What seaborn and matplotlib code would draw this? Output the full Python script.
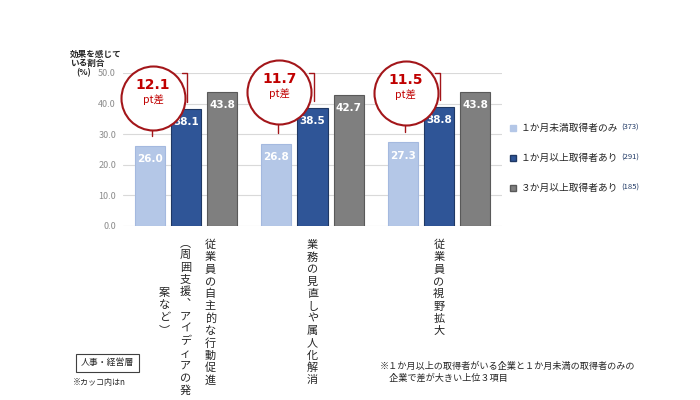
import matplotlib
matplotlib.use('Agg')
import matplotlib.pyplot as plt
import pandas as pd
import seaborn as sns

# data
categories = ['自主的な行動促進', '業務の見直し', '視野拡大']
label_columns = [
    ['従業員の自主的な行動促進', '︵周囲支援︑アイディアの発', '案など︶'],
    ['業務の見直しや属人化解消'],
    ['従業員の視野拡大'],
]
groups = ['１か月未満取得者のみ', '１か月以上取得者あり', '３か月以上取得者あり']
group_n = [373, 291, 185]
under_1m = [26.0, 26.8, 27.3]
over_1m = [38.1, 38.5, 38.8]
over_3m = [43.8, 42.7, 43.8]
yticks = [0, 10, 20, 30, 40, 50]

colors = ['#b4c7e7', '#2f5597', '#7f7f7f']
edges = ['#a4b9df', '#1f3864', '#595959']
red = '#a3161a'

df = pd.DataFrame({
    'item': categories * 3,
    'group': [g for g in groups for _ in categories],
    'value': under_1m + over_1m + over_3m,
})

sns.set_style('white')
plt.rcParams['font.family'] = ['Noto Sans CJK JP', 'DejaVu Sans']

fig = plt.figure(figsize=(7, 4), dpi=100)
ax = fig.add_axes([123 / 700, 1 - 226 / 400, 379 / 700, 153 / 400])

sns.barplot(data=df, x='item', y='value', hue='group', order=categories,
            hue_order=groups, palette=colors, saturation=1, width=0.86,
            gap=0.17, legend=False, ax=ax, zorder=3)
for cont, ec in zip(ax.containers, edges):
    for p in cont:
        p.set_edgecolor(ec)
        p.set_linewidth(0.8)
    ax.bar_label(cont, fmt='%.1f', padding=-13, color='white',
                 fontweight='bold', fontsize=7.5, family='DejaVu Sans')

ax.set_ylim(0, 50)
ax.set_xlim(-0.5, 2.5)
ax.set_yticks(yticks)
ax.set_yticklabels([f'{v:.1f}' for v in yticks])
ax.yaxis.grid(True, color='#d9d9d9', lw=0.8, zorder=0)
ax.tick_params(axis='y', length=0, labelsize=6.5, labelcolor='#8c8c8c', pad=5)
ax.set_xticks([])
ax.set_xlabel('')
ax.set_ylabel('')
for s in ax.spines.values():
    s.set_visible(False)

# callouts with pt differences
circle_y = [41.8, 43.8, 43.5]
px_per_unit = ax.transData.transform((0, 1))[1] - ax.transData.transform((0, 0))[1]
r_px = 32
light_x = [p.get_x() + p.get_width() / 2 for p in ax.containers[0]]
dark_x = [p.get_x() + p.get_width() / 2 for p in ax.containers[1]]
for i in range(len(categories)):
    diff = over_1m[i] - under_1m[i]
    cx = light_x[i] + 0.025
    cy = circle_y[i]
    ax.plot([cx - 0.01, cx - 0.01], [cy - r_px / px_per_unit, under_1m[i] + 3.5],
            color=red, lw=1, clip_on=False, zorder=4)
    ax.plot([dark_x[i] - 0.03, dark_x[i] + 0.01, dark_x[i] + 0.01],
            [50, 50, over_1m[i] + 2.4], color=red, lw=1, clip_on=False, zorder=4)
    ax.scatter([cx], [cy], s=(2 * r_px * 0.72) ** 2, facecolor='white',
               edgecolor=red, linewidth=1.5, zorder=5, clip_on=False)
    ax.annotate(f'{diff:.1f}', (cx, cy), xytext=(0, 9.5), textcoords='offset points',
                ha='center', va='center', color='#c00000', fontweight='bold',
                fontsize=10, family='DejaVu Sans', zorder=6)
    ax.annotate('pt差', (cx, cy), xytext=(0, -1), textcoords='offset points',
                ha='center', va='center', color='#c00000', fontsize=7.5, zorder=6)

# vertical category labels
col_dx = [[24, -1, -22], [0], [0]]
col_y0 = [[19, 17, 67], [19], [19]]
pitch = 12.3
for i, cols in enumerate(label_columns):
    for col, dx, y0 in zip(cols, col_dx[i], col_y0[i]):
        for k, ch in enumerate(col):
            ax.annotate(ch, xy=(i, 0), xycoords=ax.get_xaxis_transform(),
                        xytext=(dx * 0.72, -(y0 + k * pitch) * 0.72),
                        textcoords='offset points', ha='center', va='center',
                        fontsize=8, color='#262626', annotation_clip=False)

# y axis title
fig.text(70 / 700, 1 - 50 / 400, '効果を感じて\nいる割合', va='top', ha='left',
         fontsize=6.2, fontweight='bold', color='#262626', linespacing=1.05)
fig.text(76 / 700, 1 - 73 / 400, '(%)', va='center', ha='left',
         fontsize=6.2, fontweight='bold', color='#262626')

# legend
for i, (g, n, c) in enumerate(zip(groups, group_n, colors)):
    y = 1 - (128 + 30 * i) / 400
    fig.add_artist(plt.Line2D([513 / 700], [y], marker='s', markersize=4.5,
                              color=edges[i] if i else c, markerfacecolor=c,
                              transform=fig.transFigure))
    t = fig.text(521 / 700, y, g, va='center', ha='left', fontsize=7, color='#262626')
    fig.add_artist(plt.Annotation(f'({n})', xy=(1, 0.5), xycoords=t, xytext=(2, 0),
                                  textcoords='offset points', va='center', ha='left',
                                  fontsize=5.5, color='#1f3864'))

# notes
fig.text(81 / 700, 1 - 363 / 400, '人事・経営層', va='center', ha='left', fontsize=6.4,
         color='#262626', bbox=dict(boxstyle='square,pad=0.55', fc='white', ec='#404040', lw=0.8))
fig.text(73 / 700, 1 - 383 / 400, '※カッコ内はn', va='center', ha='left', fontsize=5.8,
         color='#262626')
fig.text(380 / 700, 1 - 372 / 400,
         '※１か月以上の取得者がいる企業と１か月未満の取得者のみの\n　企業で差が大きい上位３項目',
         va='center', ha='left', fontsize=6.6, color='#262626', linespacing=1.3)

fig.savefig('out.png', dpi=100)
